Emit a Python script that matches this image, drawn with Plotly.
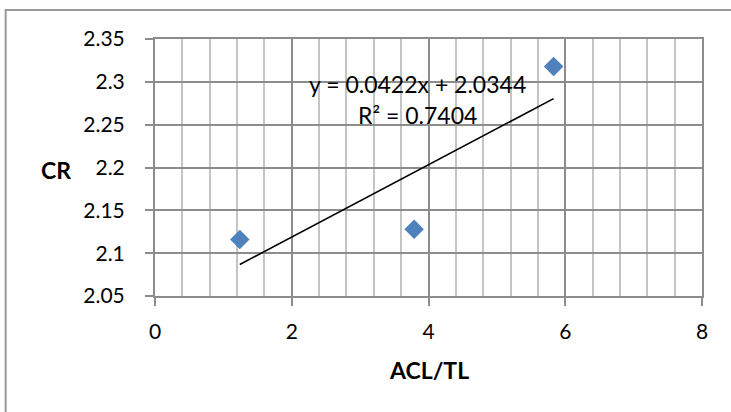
import plotly.graph_objects as go

# Data
acl_tl = [1.24, 3.79, 5.83]
cr = [2.116, 2.128, 2.318]

# Trendline (linear fit reported on chart)
slope = 0.0422
intercept = 2.0344
r2 = 0.7404

y_ticks = [2.05, 2.1, 2.15, 2.2, 2.25, 2.3, 2.35]
y_tick_text = ["2.05", "2.1", "2.15", "2.2", "2.25", "2.3", "2.35"]
x_ticks = [0, 2, 4, 6, 8]

FONT = "Lato"
TICK_SIZE = 21
TEXT_SIZE = 23

trend_x = [min(acl_tl), max(acl_tl)]
trend_y = [intercept + slope * v for v in trend_x]

fig = go.Figure()
fig.add_trace(go.Scatter(
    x=trend_x, y=trend_y, mode="lines",
    line=dict(color="black", width=1.6),
    showlegend=False, hoverinfo="skip",
))
fig.add_trace(go.Scatter(
    x=acl_tl, y=cr, mode="markers",
    marker=dict(symbol="diamond", size=15, color="#4f81bd", line=dict(width=0)),
    showlegend=False,
))

fig.update_layout(
    width=731, height=412,
    margin=dict(l=155, r=29, t=39, b=116),
    paper_bgcolor="white", plot_bgcolor="white",
    font=dict(family=FONT, size=TICK_SIZE, color="black"),
    xaxis=dict(
        range=[0, 8], tickvals=x_ticks, showgrid=True,
        gridcolor="#8c8c8c", gridwidth=2,
        minor=dict(dtick=0.4, showgrid=True, gridcolor="#c4c4c4", gridwidth=2),
        ticks="outside", ticklen=8, tickwidth=2, tickcolor="#8c8c8c",
        showline=True, linecolor="#8c8c8c", linewidth=2, mirror=True,
        zeroline=False, ticklabelstandoff=8,
        tickfont=dict(family=FONT, size=TICK_SIZE, color="black"),
    ),
    yaxis=dict(
        range=[2.05, 2.35], tickvals=y_ticks, ticktext=y_tick_text,
        showgrid=True, gridcolor="#8c8c8c", gridwidth=2,
        ticks="outside", ticklen=8, tickwidth=2, tickcolor="#8c8c8c",
        showline=True, linecolor="#8c8c8c", linewidth=2, mirror=True,
        zeroline=False, ticklabelstandoff=16,
        tickfont=dict(family=FONT, size=TICK_SIZE, color="black"),
    ),
    shapes=[
        dict(type="rect", xref="paper", yref="paper",
             x0=-0.273, x1=1.07, y0=-0.48, y1=1.113,
             line=dict(color="#9a9a9a", width=2), fillcolor="rgba(0,0,0,0)", layer="below"),
    ],
    annotations=[
        dict(text=f"y = {slope}x + {intercept}", x=3.84, y=2.297, xref="x", yref="y",
             showarrow=False, font=dict(family=FONT, size=TEXT_SIZE, color="black"),
             xanchor="center", yanchor="middle"),
        dict(text=f"R² = {r2}", x=3.84, y=2.261, xref="x", yref="y",
             showarrow=False, font=dict(family=FONT, size=TEXT_SIZE, color="black"),
             xanchor="center", yanchor="middle"),
        dict(text="<b>CR</b>", x=(56 - 155) / 547, y=(296 - 170) / 257,
             xref="paper", yref="paper", showarrow=False,
             font=dict(family=FONT, size=TEXT_SIZE, color="black"),
             xanchor="center", yanchor="middle"),
        dict(text="<b>ACL/TL</b>", x=(429 - 155) / 547, y=(296 - 370) / 257,
             xref="paper", yref="paper", showarrow=False,
             font=dict(family=FONT, size=TEXT_SIZE, color="black"),
             xanchor="center", yanchor="middle"),
    ],
)

fig.write_html("out.html")
